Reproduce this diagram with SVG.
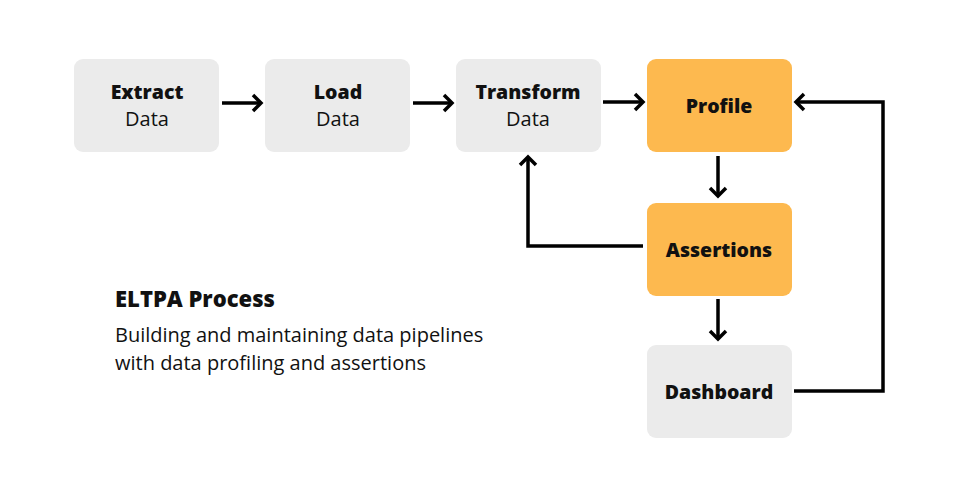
<svg xmlns="http://www.w3.org/2000/svg" width="957" height="497" viewBox="0 0 957 497">
<style>
.grey{fill:#ebebeb}
.orange{fill:#fdb94f}
.t{font-family:"Open Sans","Noto Sans",sans-serif;font-size:20px;fill:#111;text-anchor:middle}
.b{font-weight:800;font-size:19.5px}
.c{fill:none;stroke:#000;stroke-width:3.5;marker-end:url(#ah)}
.cap{font-family:"Open Sans","Noto Sans",sans-serif;fill:#111}
</style>
<defs>
<marker id="ah" markerUnits="userSpaceOnUse" markerWidth="24" markerHeight="24" viewBox="-12 -12 24 24" refX="0" refY="0" orient="auto">
<path d="M-8,-8 L0,0 L-8,8" fill="none" stroke="#000" stroke-width="3.5"/>
</marker>
</defs>
<rect width="957" height="497" fill="#fff"/>
<g id="extract"><rect class="grey" x="74" y="59" width="145" height="93" rx="9"/><text class="t b" x="147" y="99">Extract</text><text class="t" x="147" y="126">Data</text></g>
<g id="load"><rect class="grey" x="265" y="59" width="145" height="93" rx="9"/><text class="t b" x="338" y="99">Load</text><text class="t" x="338" y="126">Data</text></g>
<g id="transform"><rect class="grey" x="456" y="59" width="145" height="93" rx="9"/><text class="t b" x="528" y="99">Transform</text><text class="t" x="528" y="126">Data</text></g>
<g id="profile"><rect class="orange" x="647" y="59" width="145" height="93" rx="9"/><text class="t b" x="719" y="113">Profile</text></g>
<g id="assertions"><rect class="orange" x="647" y="203" width="145" height="93" rx="9"/><text class="t b" x="719" y="257">Assertions</text></g>
<g id="dashboard"><rect class="grey" x="647" y="345" width="145" height="93" rx="9"/><text class="t b" x="719" y="399">Dashboard</text></g>
<g id="connectors">
<path class="c" d="M222,103 H261"/>
<path class="c" d="M413,103 H452"/>
<path class="c" d="M603,102 H643"/>
<path class="c" d="M718,156 V196"/>
<path class="c" d="M718,299 V339"/>
<path class="c" d="M643,246 H528 V157"/>
<path class="c" d="M794,391 H883 V102 H796"/>
</g>
<g id="caption">
<text class="cap" x="115" y="307" font-size="22" font-weight="800">ELTPA Process</text>
<text class="cap" x="115" y="342" font-size="20">Building and maintaining data pipelines</text>
<text class="cap" x="115" y="370" font-size="20">with data profiling and assertions</text>
</g>
</svg>
